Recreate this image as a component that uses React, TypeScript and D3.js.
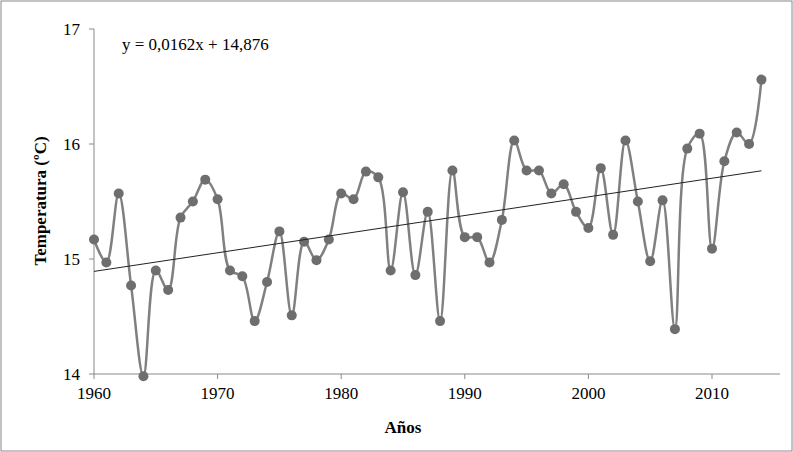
import * as d3 from 'd3';

const years: number[] = d3.range(1960, 2015);
const temps: number[] = [
  15.17, 14.97, 15.57, 14.77, 13.98, 14.9, 14.73, 15.36, 15.5, 15.69,
  15.52, 14.9, 14.85, 14.46, 14.8, 15.24, 14.51, 15.15, 14.99, 15.17,
  15.57, 15.52, 15.76, 15.71, 14.9, 15.58, 14.86, 15.41, 14.46, 15.77,
  15.19, 15.19, 14.97, 15.34, 16.03, 15.77, 15.77, 15.57, 15.65, 15.41,
  15.27, 15.79, 15.21, 16.03, 15.5, 14.98, 15.51, 14.39, 15.96, 16.09,
  15.09, 15.85, 16.1, 16.0, 16.56,
];
const xTicks = [1960, 1970, 1980, 1990, 2000, 2010];
const yTicks = [14, 15, 16, 17];
const slope = 0.0162;
const intercept = 14.876;

const App = () => {
  const W = 793, H = 452;
  const x = d3.scaleLinear().domain([1960, 2010]).range([94, 712]);
  const y = d3.scaleLinear().domain([14, 17]).range([374, 29]);
  const pts = years.map((yr, i) => [yr, temps[i]] as [number, number]);
  const line = d3.line<[number, number]>()
    .x((d) => x(d[0])).y((d) => y(d[1]))
    .curve(d3.curveCatmullRom.alpha(0.5));
  const trend = [1960, 2014].map((yr) => [yr, slope * (yr - 1959) + intercept] as [number, number]);
  const font = 'Liberation Serif, Times New Roman, serif';
  return (
    <svg width={W} height={H} style={{ position: 'absolute', left: 0, top: 0 }} fontFamily={font}>
      <rect x={0} y={0} width={W} height={H} fill="white" />
      <rect x={1} y={1} width={W - 2} height={H - 2} fill="none" stroke="#888" strokeWidth={1} />
      <line x1={94} x2={94} y1={29} y2={374} stroke="#888" />
      <line x1={94} x2={780} y1={374} y2={374} stroke="#888" />
      {yTicks.map((t) => (
        <g key={t}>
          <line x1={89} x2={94} y1={y(t)} y2={y(t)} stroke="#888" />
          <text x={80} y={y(t) + 6} textAnchor="end" fontSize={17}>{t}</text>
        </g>
      ))}
      {xTicks.map((t) => (
        <g key={t}>
          <line x1={x(t)} x2={x(t)} y1={374} y2={379} stroke="#888" />
          <text x={x(t)} y={399} textAnchor="middle" fontSize={17}>{t}</text>
        </g>
      ))}
      <path d={line(pts) ?? ''} fill="none" stroke="#808080" strokeWidth={2.5} />
      {pts.map((d, i) => (
        <circle key={i} cx={x(d[0])} cy={y(d[1])} r={5} fill="#6e6e6e" />
      ))}
      <path d={d3.line<[number, number]>().x((d) => x(d[0])).y((d) => y(d[1]))(trend) ?? ''} stroke="#222" strokeWidth={1} fill="none" />
      <text x={122} y={50} fontSize={17}>y = 0,0162x + 14,876</text>
      <text x={403} y={433} textAnchor="middle" fontSize={17} fontWeight="bold">Años</text>
      <text transform="translate(46,201) rotate(-90)" textAnchor="middle" fontSize={17} fontWeight="bold">Temperatura (ºC)</text>
    </svg>
  );
};

export default App;
